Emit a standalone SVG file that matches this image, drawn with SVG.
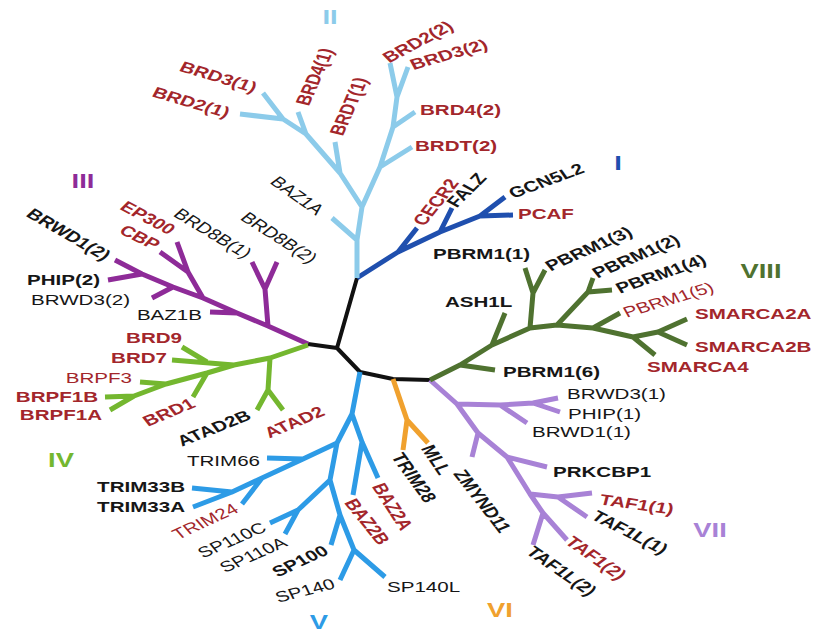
<svg xmlns="http://www.w3.org/2000/svg" width="816" height="637" viewBox="0 0 816 637">
<style>
.br{fill:none;stroke-width:5;stroke-linejoin:round;stroke-linecap:butt}
.c0{stroke:#111;stroke-width:4}
.c1{stroke:#1f4fae}
.c2{stroke:#8ccbea}
.c3{stroke:#8e2b98}
.c4{stroke:#74b72f}
.c5{stroke:#2d9be6}
.c6{stroke:#f0a12e}
.c7{stroke:#a882d6}
.c8{stroke:#4f7230}
text{font-family:"Liberation Sans",Arial,sans-serif;font-size:15px;fill:#161616}
.b{font-weight:bold}
.r{fill:#a3262b}
.e{text-anchor:end}
.n{font-size:20px;font-weight:bold;text-anchor:middle}
</style>
<rect width="816" height="637" fill="#fff"/>
<g id="connectors">
<path class="br c0" d="M357,278 L337,348 M308,344 L337,348 L360,372 L393,379 L430,380"/>
<path class="br c1" d="M357,278 L398,252 L440,232 L480,216 M398,252 L417,228 M440,232 L452,208 M480,216 L505,197 M480,216 L513,215"/>
<path class="br c2" d="M357,278 L357,240 L362,207 L340,173 L306,134 L283,119 L263,93 M357,240 L332,218 M340,173 L335,142 M306,134 L298,112 M283,119 L240,114 M362,207 L380,167 L393,127 L397,97 L390,63 M397,97 L408,67 M393,127 L415,112 M380,167 L412,147"/>
<path class="br c3" d="M308,344 L268,326 L237,313 L203,298 L173,287 L142,274 L115,260 M268,326 L265,289 L252,262 M265,289 L277,262 M237,313 L210,312 M203,298 L188,272 L177,242 M188,272 L160,252 M173,287 L152,298 M142,274 L108,280"/>
<path class="br c4" d="M308,345 L270,358 L234,365 L207,373 L166,384 L134,396 L110,410 M270,358 L268,390 L257,410 M268,390 L283,410 M234,365 L172,360 M207,362 L182,347 M207,373 L193,397 M166,384 L140,382 M134,396 L105,397"/>
<path class="br c5" d="M360,372 L352,414 L362,442 L378,478 M362,442 L353,495 M352,414 L337,443 L303,459 L262,478 L232,492 L192,488 M232,492 L193,507 M303,459 L267,458 M262,478 L242,504 M337,443 L330,480 L340,515 L354,550 L385,577 M330,480 L298,510 L270,523 M298,510 L285,534 M340,515 L331,545 M354,550 L340,580"/>
<path class="br c6" d="M393,379 L407,420 L403,450 M407,420 L428,443"/>
<path class="br c7" d="M430,380 L457,404 L478,433 L507,457 L530,494 L543,513 L533,545 M543,513 L567,540 M457,404 L500,405 L533,403 L558,398 M500,405 L527,423 M533,403 L560,412 M478,433 L472,457 M507,457 L547,467 M530,494 L558,497 L592,493 M558,497 L587,517"/>
<path class="br c8" d="M430,380 L460,365 L492,345 L530,328 L557,325 L593,328 L633,337 L658,332 L687,319 M658,332 L687,345 M460,365 L495,370 M492,345 L505,313 M530,328 L533,293 L525,268 M533,293 L545,270 M557,325 L588,292 L593,278 M588,292 L612,290 M593,328 L620,313 M633,337 L655,355"/>
</g>
<g id="clusterII">
<text class="n" fill="#8ccbea" style="fill:#8ccbea" transform="translate(330,17) scale(1.37,1)" dy="0.35em">II</text>
<g id="BRD3_1"><text class="b r e" transform="translate(256,88) scale(1.37,1) rotate(22)" dy="0.35em">BRD3(1)</text></g>
<g id="BRD2_1"><text class="b r e" transform="translate(229,113) scale(1.37,1) rotate(21.4)" dy="0.35em">BRD2(1)</text></g>
<g id="BRD4_1"><text class="b r" transform="translate(302,105) scale(1.37,1) rotate(-72)" dy="0.35em">BRD4(1)</text></g>
<g id="BRDT_1"><text class="b r" transform="translate(336,135) scale(1.37,1) rotate(-72)" dy="0.35em">BRDT(1)</text></g>
<g id="BRD2_2"><text class="b r" transform="translate(385,59) scale(1.37,1) rotate(-36)" dy="0.35em">BRD2(2)</text></g>
<g id="BRD3_2"><text class="b r" transform="translate(411,65) scale(1.37,1) rotate(-21.4)" dy="0.35em">BRD3(2)</text></g>
<g id="BRD4_2"><text class="b r" transform="translate(420,110) scale(1.37,1)" dy="0.35em">BRD4(2)</text></g>
<g id="BRDT_2"><text class="b r" transform="translate(415,146) scale(1.37,1)" dy="0.35em">BRDT(2)</text></g>
</g>
<g id="clusterI">
<text class="n" style="fill:#1f4fae" transform="translate(618,163) scale(1.37,1)" dy="0.35em">I</text>
<g id="CECR2"><text class="b r" transform="translate(418,224) scale(1.37,1) rotate(-59.4)" dy="0.35em">CECR2</text></g>
<g id="FALZ"><text class="b" transform="translate(451,205) scale(1.37,1) rotate(-53)" dy="0.35em">FALZ</text></g>
<g id="GCN5L2"><text class="b" transform="translate(510,194) scale(1.37,1) rotate(-26.8)" dy="0.35em">GCN5L2</text></g>
<g id="PCAF"><text class="b r" transform="translate(518,214) scale(1.37,1)" dy="0.35em">PCAF</text></g>
</g>
<g id="clusterIII">
<text class="n" style="fill:#8e2b98" transform="translate(83,181) scale(1.37,1)" dy="0.35em">III</text>
<g id="BRWD1_2"><text class="b e" transform="translate(108,257) scale(1.37,1) rotate(38.3)" dy="0.35em">BRWD1(2)</text></g>
<g id="EP300"><text class="b r e" transform="translate(173,231) scale(1.37,1) rotate(36)" dy="0.35em">EP300</text></g>
<g id="CBP"><text class="b r e" transform="translate(158,246) scale(1.37,1) rotate(34)" dy="0.35em">CBP</text></g>
<g id="PHIP_2"><text class="b e" transform="translate(100,280) scale(1.37,1)" dy="0.35em">PHIP(2)</text></g>
<g id="BRWD3_2"><text class="e" transform="translate(130,300) scale(1.37,1)" dy="0.35em">BRWD3(2)</text></g>
<g id="BAZ1B"><text class="e" transform="translate(202,315) scale(1.37,1)" dy="0.35em">BAZ1B</text></g>
<g id="BRD8B_1"><text class="e" transform="translate(249,255) scale(1.37,1) rotate(39.5)" dy="0.35em">BRD8B(1)</text></g>
<g id="BRD8B_2"><text transform="translate(244,215) scale(1.37,1) rotate(41.3)" dy="0.35em">BRD8B(2)</text></g>
<g id="BAZ1A"><text transform="translate(274,179) scale(1.37,1) rotate(43.8)" dy="0.35em">BAZ1A</text></g>
</g>
<g id="clusterIV">
<text class="n" style="fill:#74b72f" transform="translate(61,460) scale(1.37,1)" dy="0.35em">IV</text>
<g id="BRD9"><text class="b r e" transform="translate(182,338) scale(1.37,1)" dy="0.35em">BRD9</text></g>
<g id="BRD7"><text class="b r e" transform="translate(167,358) scale(1.37,1)" dy="0.35em">BRD7</text></g>
<g id="BRPF3"><text class="r e" transform="translate(132,378) scale(1.37,1)" dy="0.35em">BRPF3</text></g>
<g id="BRPF1B"><text class="b r e" transform="translate(98,397) scale(1.37,1)" dy="0.35em">BRPF1B</text></g>
<g id="BRPF1A"><text class="b r e" transform="translate(102,415) scale(1.37,1)" dy="0.35em">BRPF1A</text></g>
<g id="BRD1"><text class="b r e" transform="translate(193,402) scale(1.37,1) rotate(-29.8)" dy="0.35em">BRD1</text></g>
<g id="ATAD2B"><text class="b e" transform="translate(249,414) scale(1.37,1) rotate(-28.7)" dy="0.35em">ATAD2B</text></g>
<g id="ATAD2"><text class="b r" transform="translate(266,434) scale(1.37,1) rotate(-30)" dy="0.35em">ATAD2</text></g>
</g>
<g id="clusterV">
<text class="n" style="fill:#2d9be6" transform="translate(319,622) scale(1.37,1)" dy="0.35em">V</text>
<g id="TRIM66"><text class="e" transform="translate(260,461) scale(1.37,1)" dy="0.35em">TRIM66</text></g>
<g id="TRIM33B"><text class="b e" transform="translate(185,487) scale(1.37,1)" dy="0.35em">TRIM33B</text></g>
<g id="TRIM33A"><text class="b e" transform="translate(185,507) scale(1.37,1)" dy="0.35em">TRIM33A</text></g>
<g id="TRIM24"><text class="r e" transform="translate(236,507) scale(1.37,1) rotate(-32.3)" dy="0.35em">TRIM24</text></g>
<g id="SP110C"><text class="e" transform="translate(264,526) scale(1.37,1) rotate(-30.6)" dy="0.35em">SP110C</text></g>
<g id="SP110A"><text class="e" transform="translate(285,541) scale(1.37,1) rotate(-30.6)" dy="0.35em">SP110A</text></g>
<g id="SP100"><text class="b e" transform="translate(326,549) scale(1.37,1) rotate(-32.3)" dy="0.35em">SP100</text></g>
<g id="SP140"><text class="e" transform="translate(334,583) scale(1.37,1) rotate(-19.3)" dy="0.35em">SP140</text></g>
<g id="SP140L"><text transform="translate(387,587) scale(1.37,1)" dy="0.35em">SP140L</text></g>
<g id="BAZ2A"><text class="b r" transform="translate(378,484) scale(1.37,1) rotate(64.6)" dy="0.35em">BAZ2A</text></g>
<g id="BAZ2B"><text class="b r" transform="translate(350,500) scale(1.37,1) rotate(59.4)" dy="0.35em">BAZ2B</text></g>
</g>
<g id="clusterVI">
<text class="n" style="fill:#f0a12e" transform="translate(500,610) scale(1.37,1)" dy="0.35em">VI</text>
<g id="MLL"><text class="b" transform="translate(427,446) scale(1.37,1) rotate(63.7)" dy="0.35em">MLL</text></g>
<g id="TRIM28"><text class="b" transform="translate(397,454) scale(1.37,1) rotate(62)" dy="0.35em">TRIM28</text></g>
</g>
<g id="clusterVII">
<text class="n" style="fill:#a882d6" transform="translate(710,530) scale(1.37,1)" dy="0.35em">VII</text>
<g id="BRWD3_1"><text transform="translate(567,394) scale(1.37,1)" dy="0.35em">BRWD3(1)</text></g>
<g id="PHIP_1"><text transform="translate(568,414) scale(1.37,1)" dy="0.35em">PHIP(1)</text></g>
<g id="BRWD1_1"><text transform="translate(532,432) scale(1.37,1)" dy="0.35em">BRWD1(1)</text></g>
<g id="PRKCBP1"><text class="b" transform="translate(553,472) scale(1.37,1)" dy="0.35em">PRKCBP1</text></g>
<g id="TAF1_1"><text class="b r" transform="translate(600,499) scale(1.37,1) rotate(10.9)" dy="0.35em">TAF1(1)</text></g>
<g id="TAF1L_1"><text class="b" transform="translate(594,514) scale(1.37,1) rotate(34.9)" dy="0.35em">TAF1L(1)</text></g>
<g id="TAF1_2"><text class="b r" transform="translate(569,539) scale(1.37,1) rotate(43.8)" dy="0.35em">TAF1(2)</text></g>
<g id="TAF1L_2"><text class="b" transform="translate(530,549) scale(1.37,1) rotate(43.5)" dy="0.35em">TAF1L(2)</text></g>
<g id="ZMYND11"><text class="b" transform="translate(459,471) scale(1.37,1) rotate(60.3)" dy="0.35em">ZMYND11</text></g>
</g>
<g id="clusterVIII">
<text class="n" style="fill:#4f7230" transform="translate(761,271) scale(1.37,1)" dy="0.35em">VIII</text>
<g id="PBRM1_1"><text class="b" transform="translate(433,254) scale(1.37,1)" dy="0.35em">PBRM1(1)</text></g>
<g id="ASH1L"><text class="b" transform="translate(445,302) scale(1.37,1)" dy="0.35em">ASH1L</text></g>
<g id="PBRM1_3"><text class="b" transform="translate(547,267) scale(1.37,1) rotate(-31)" dy="0.35em">PBRM1(3)</text></g>
<g id="PBRM1_2"><text class="b" transform="translate(594,274) scale(1.37,1) rotate(-30.2)" dy="0.35em">PBRM1(2)</text></g>
<g id="PBRM1_4"><text class="b" transform="translate(617,289) scale(1.37,1) rotate(-25.3)" dy="0.35em">PBRM1(4)</text></g>
<g id="PBRM1_5"><text class="r" transform="translate(624,313) scale(1.37,1) rotate(-22.3)" dy="0.35em">PBRM1(5)</text></g>
<g id="SMARCA2A"><text class="b r" transform="translate(695,314) scale(1.37,1)" dy="0.35em">SMARCA2A</text></g>
<g id="SMARCA2B"><text class="b r" transform="translate(695,347) scale(1.37,1)" dy="0.35em">SMARCA2B</text></g>
<g id="SMARCA4"><text class="b r" transform="translate(647,367) scale(1.37,1)" dy="0.35em">SMARCA4</text></g>
<g id="PBRM1_6"><text class="b" transform="translate(503,372) scale(1.37,1)" dy="0.35em">PBRM1(6)</text></g>
</g>
</svg>
